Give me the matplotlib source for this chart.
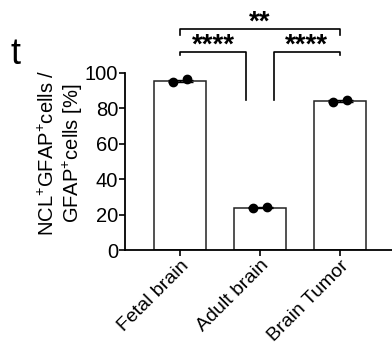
import matplotlib
matplotlib.use("Agg")
import matplotlib.pyplot as plt
import numpy as np

plt.rcParams["font.family"] = ["Liberation Sans", "DejaVu Sans"]
plt.rcParams["mathtext.fontset"] = "custom"
plt.rcParams["mathtext.rm"] = "Liberation Sans"
plt.rcParams["mathtext.it"] = "Liberation Sans"

# data
groups = ["Fetal brain", "Adult brain", "Brain Tumor"]
means = [95.6, 23.9, 84.2]
point_lo = [95.1, 23.5, 83.8]
point_hi = [96.4, 24.5, 84.7]
stars = ["****", "****", "**"]

fig = plt.figure(figsize=(3.92, 3.49), dpi=100)
ax = fig.add_axes([125 / 392, 99 / 349, 267 / 392, 177 / 349])

x = np.arange(len(groups))
ax.bar(x, means, width=0.655, color="white", edgecolor="#222222", linewidth=1.1, zorder=1)

# replicate points and mean +/- sem
for i in range(len(groups)):
    pts = [point_lo[i], point_hi[i]]
    ax.plot([x[i] - 0.0875, x[i] + 0.0875], pts, "o", color="black", ms=6, zorder=3, clip_on=False)
    sem = np.std(pts) / np.sqrt(2)
    ax.errorbar(x[i], means[i], yerr=sem, color="black", capsize=9, capthick=1, elinewidth=1, zorder=2)

ax.set_xlim(-0.6875, 2.65)
ax.set_ylim(0, 100)
ax.set_yticks([0, 20, 40, 60, 80, 100])
ax.set_xticks(x)
ax.set_xticklabels(groups, rotation=45, ha="right", rotation_mode="anchor", fontsize=14)
ax.tick_params(axis="y", labelsize=14.5, length=4, width=1.2, pad=1)
ax.tick_params(axis="x", length=4, width=1.2, pad=1)
for s in ["top", "right"]:
    ax.spines[s].set_visible(False)
for s in ["left", "bottom"]:
    ax.spines[s].set_linewidth(1.3)

# significance brackets
kw = dict(color="black", lw=1.2, clip_on=False)
ax.plot([0, 0, 0.83, 0.83], [110.2, 111.9, 111.9, 84.7], **kw)
ax.plot([1.17, 1.17, 2, 2], [84.7, 111.9, 111.9, 110.2], **kw)
ax.plot([0, 0, 2, 2], [121.5, 124.7, 124.7, 121.5], **kw)
ax.text(0.415, 111.5, stars[0], ha="center", va="baseline", fontsize=20, fontweight="bold")
ax.text(1.585, 111.5, stars[1], ha="center", va="baseline", fontsize=20, fontweight="bold")
ax.text(1.0, 124.3, stars[2], ha="center", va="baseline", fontsize=20, fontweight="bold")

fig.text(48 / 392, 1 - 153 / 349, r"NCL$^{+}$GFAP$^{+}$cells /", rotation=90,
         ha="center", va="center", fontsize=14.5)
fig.text(73 / 392, 1 - 153 / 349, r"GFAP$^{+}$cells [%]", rotation=90,
         ha="center", va="center", fontsize=14.5)
fig.text(16 / 392, 1 - 54 / 349, "t", ha="center", va="center", fontsize=26)

fig.savefig("out.png", dpi=100)
